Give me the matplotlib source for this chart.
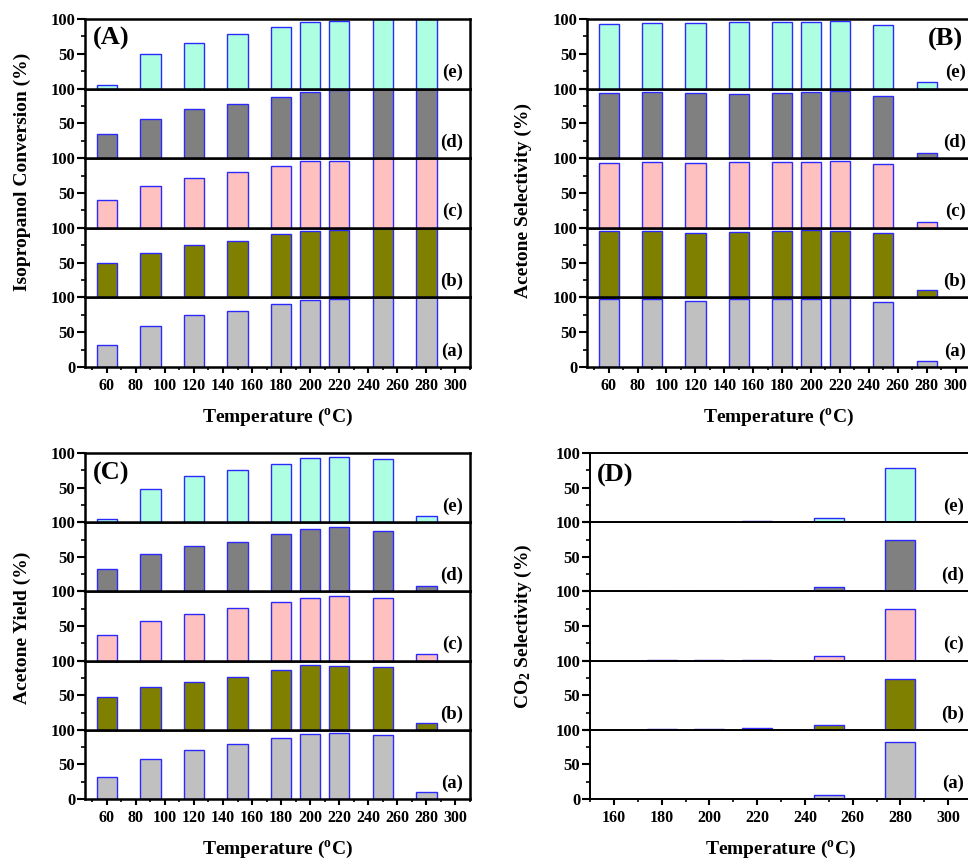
import numpy as np
import matplotlib.pyplot as plt
from matplotlib.ticker import MultipleLocator

plt.rcParams["font.family"] = ["Liberation Serif", "DejaVu Serif"]
plt.rcParams["font.weight"] = "bold"
plt.rcParams["mathtext.fontset"] = "custom"
plt.rcParams["mathtext.rm"] = "Liberation Serif:bold"
plt.rcParams["mathtext.bf"] = "Liberation Serif:bold"
plt.rcParams["mathtext.it"] = "Liberation Serif:bold"

# reaction temperatures (degC)
temps = [60, 90, 120, 150, 180, 200, 220, 250, 280]
temps_co2 = [180, 200, 220, 250, 280]

# catalysts, bottom (a) to top (e)
cat_labels = ["(a)", "(b)", "(c)", "(d)", "(e)"]
cat_colors = ["#c0c0c0", "#808000", "#ffc0c0", "#808080", "#aeffe2"]

# rows follow cat_labels order
conversion = [
    [32, 58.5, 74, 80.5, 90, 96, 97, 100, 100],
    [50, 64.5, 75, 81, 90.5, 96, 97, 100, 100],
    [40, 59.5, 71.5, 80, 89.5, 96, 96.5, 100, 100],
    [34.5, 56, 70.5, 78, 88.5, 95, 98, 100, 100],
    [5, 50, 66, 78.5, 88, 95.5, 97, 100, 100],
]
acetone_sel = [
    [98, 98, 95.5, 98, 98, 98, 98.5, 93, 9],
    [95.5, 95.5, 92.5, 94, 95.5, 97.5, 95.5, 92.5, 10],
    [93.5, 95, 93.5, 94.5, 94.5, 94.5, 96.5, 92, 9],
    [94, 95, 93.5, 92.5, 94, 94.5, 97, 89.5, 7.5],
    [93.5, 94.5, 94.5, 95.5, 95.5, 95.5, 97, 91.5, 9.5],
]
acetone_yield = [
    [32, 57.5, 70.5, 79, 88.5, 94, 95, 92.5, 10],
    [47.5, 61.5, 69, 76, 86, 93, 92, 90.5, 9.5],
    [37.5, 57, 67, 76, 85, 90.5, 94, 90.5, 9.5],
    [33, 54, 66, 71.5, 82.5, 89.5, 92.5, 87.5, 8],
    [4, 47.5, 67, 76, 84.5, 92.5, 94.5, 91, 8.5],
]
co2_sel = [
    [0.3, 0.5, 0.3, 5.5, 82],
    [1, 1, 2.5, 6.5, 73.5],
    [1, 1, 1, 7, 75],
    [1, 1, 1, 6.5, 74],
    [1, 1, 1.5, 6.5, 78],
]

W, H = 968, 858


def panel(fig, x_px, y_px, w_px, h_px, xs, rows, width, xlim, xmajor,
          letter, letter_pos, ylabel, ylabel_px, label_x, frame_lw=1.8):
    sub_h = h_px / 5
    axes = []
    for i in range(5):
        top = y_px + (4 - i) * sub_h
        ax = fig.add_axes([x_px / W, 1 - (top + sub_h) / H, w_px / W, sub_h / H])
        ax.bar(xs, rows[i], width=width, color=cat_colors[i],
               edgecolor="#2a2aff", linewidth=1.0, zorder=2)
        ax.set_xlim(*xlim)
        ax.set_ylim(0, 100)
        ax.set_yticks([0, 50, 100])
        ax.yaxis.set_minor_locator(MultipleLocator(25))
        ax.set_yticklabels(["0" if i == 0 else "", "50", "100"])
        ax.tick_params(axis="y", which="major", direction="out", length=5.5,
                       width=1.5, labelsize=12, pad=1.5)
        ax.tick_params(axis="y", which="minor", direction="out", length=3,
                       width=1.2)
        ax.xaxis.set_major_locator(MultipleLocator(xmajor))
        ax.xaxis.set_minor_locator(MultipleLocator(10))
        if i == 0:
            ax.tick_params(axis="x", which="major", direction="out", length=4,
                           width=1.5, labelsize=11.5, pad=4)
            ax.tick_params(axis="x", which="minor", direction="out", length=2.5,
                           width=1.2)
            ax.set_xlabel(r"Temperature ($^\mathbf{o}$C)", fontsize=14,
                          fontweight="bold", labelpad=9)
        else:
            ax.tick_params(axis="x", which="both", bottom=False, labelbottom=False)
        for s in ax.spines.values():
            s.set_linewidth(frame_lw)
        ax.text(label_x, 0.23, cat_labels[i], transform=ax.transAxes,
                ha="right", va="center", fontsize=13.5, fontweight="bold")
        axes.append(ax)
    top_ax = axes[-1]
    ha = "left" if letter_pos[0] < 0.5 else "right"
    top_ax.text(letter_pos[0], letter_pos[1], letter, transform=top_ax.transAxes,
                ha=ha, va="center", fontsize=19, fontweight="bold")
    fig.text(ylabel_px[0] / W, 1 - ylabel_px[1] / H, ylabel, rotation=90,
             ha="center", va="center", fontsize=14, fontweight="bold")
    return axes


fig = plt.figure(figsize=(W / 100, H / 100), dpi=100)

panel(fig, 85, 19, 385, 348, temps, conversion, 14, (45, 310), 20,
      "(A)", (0.02, 0.72), "Isopropanol Conversion (%)", (22, 172), 0.982)
panel(fig, 587, 19, 383, 348, temps, acetone_sel, 14, (45, 310), 20,
      "(B)", (0.982, 0.70), "Acetone Selectivity (%)", (523, 200), 0.99)
panel(fig, 85, 453, 385, 346, temps, acetone_yield, 14, (45, 310), 20,
      "(C)", (0.02, 0.70), "Acetone Yield (%)", (22, 628), 0.982)
panel(fig, 590, 453, 382, 346, temps_co2, co2_sel, 12.5, (150, 310), 20,
      "(D)", (0.018, 0.68), r"CO$_\mathbf{2}$ Selectivity (%)", (523, 626), 0.98,
      frame_lw=1.4)

fig.savefig("out.png", dpi=100)
